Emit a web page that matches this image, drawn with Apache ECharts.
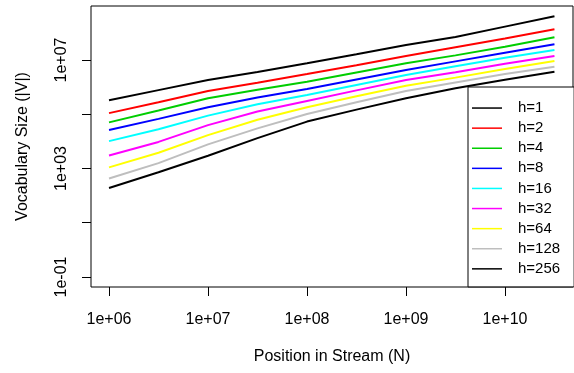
<!DOCTYPE html>
<html>
<head>
<meta charset="utf-8">
<script src="https://cdn.jsdelivr.net/npm/echarts@6/dist/echarts.min.js"></script>
<style>html,body{margin:0;padding:0;background:#fff}#c{width:574px;height:373px}</style>
</head>
<body>
<div id="c"></div>
<script>
// Stream positions (N)
var positions = [1e6, 3.16e6, 1e7, 3.16e7, 1e8, 3.16e8, 1e9, 3.16e9, 1e10, 3.16e10];
// Vocabulary size |V| per hash setting h
var seriesNames = ['h=1', 'h=2', 'h=4', 'h=8', 'h=16', 'h=32', 'h=64', 'h=128', 'h=256'];
var h1   = [3.31e5, 7.76e5, 1.82e6, 3.63e6, 7.59e6, 1.62e7, 3.55e7, 7.08e7, 1.70e8, 4.07e8];
var h2   = [1.10e5, 2.75e5, 7.24e5, 1.45e6, 3.02e6, 6.46e6, 1.41e7, 2.95e7, 6.17e7, 1.35e8];
var h4   = [5.01e4, 1.38e5, 3.89e5, 7.94e5, 1.58e6, 3.47e6, 7.59e6, 1.48e7, 3.09e7, 6.92e7];
var h8   = [2.63e4, 6.76e4, 1.82e5, 4.17e5, 8.51e5, 1.91e6, 4.27e6, 8.91e6, 1.86e7, 3.80e7];
var h16  = [1.02e4, 2.82e4, 8.91e4, 2.34e5, 5.13e5, 1.20e6, 2.82e6, 5.89e6, 1.20e7, 2.34e7];
var h32  = [3.02e3, 9.55e3, 3.98e4, 1.26e5, 3.09e5, 7.59e5, 1.82e6, 3.55e6, 7.24e6, 1.41e7];
var h64  = [1.10e3, 3.80e3, 1.70e4, 6.31e4, 1.82e5, 4.57e5, 1.12e6, 2.24e6, 4.68e6, 9.12e6];
var h128 = [427, 1.58e3, 7.76e3, 3.02e4, 1.02e5, 2.75e5, 7.24e5, 1.48e6, 3.02e6, 5.62e6];
var h256 = [191, 724, 2.95e3, 1.32e4, 5.37e4, 1.48e5, 3.89e5, 9.12e5, 1.86e6, 3.72e6];
// Tick positions (powers of ten)
var xTickExps = [6, 7, 8, 9, 10];
var yTickExps = [-1, 1, 3, 5, 7];
var yLabelExps = [-1, 3, 7];

var colors = ['#000000', '#FF0000', '#00CD00', '#0000FF', '#00FFFF', '#FF00FF', '#FFFF00', '#BEBEBE', '#000000'];
var allValues = [h1, h2, h4, h8, h16, h32, h64, h128, h256];
var FONT = 'Liberation Sans, Arial, Helvetica, sans-serif';

function sci(e) {
  var s = e < 0 ? '-' : '+';
  var a = Math.abs(Math.round(e));
  return '1e' + s + (a < 10 ? '0' + a : '' + a);
}

var series = allValues.map(function (vals, i) {
  return {
    name: seriesNames[i],
    type: 'line',
    symbol: 'none',
    color: colors[i],
    lineStyle: { width: 2, color: colors[i] },
    data: positions.map(function (x, j) { return [Math.log10(x), Math.log10(vals[j])]; })
  };
});

var chart = echarts.init(document.getElementById('c'), null, { renderer: 'canvas' });
chart.setOption({
  animation: false,
  backgroundColor: '#ffffff',
  grid: { left: 91, top: 6, width: 482, height: 281, show: true, borderColor: '#000', borderWidth: 1, backgroundColor: 'transparent' },
  xAxis: {
    type: 'value', min: 5.818, max: 10.687,
    axisLine: { show: false, onZero: false },
    splitLine: { show: false },
    axisTick: { show: true, length: 9, lineStyle: { color: '#000', width: 1 }, customValues: xTickExps },
    axisLabel: { customValues: xTickExps, formatter: function (v) { return sci(v); }, color: '#000', fontSize: 16, fontFamily: FONT, margin: 25 },
    name: 'Position in Stream (N)', nameLocation: 'middle', nameGap: 62,
    nameTextStyle: { color: '#000', fontSize: 16, fontFamily: FONT }
  },
  yAxis: {
    type: 'value', min: -1.369, max: 8.991,
    axisLine: { show: false, onZero: false },
    splitLine: { show: false },
    axisTick: { show: true, length: 9, lineStyle: { color: '#000', width: 1 }, customValues: yTickExps },
    axisLabel: { customValues: yLabelExps, rotate: 90, formatter: function (v) { return sci(v); }, color: '#000', fontSize: 16, fontFamily: FONT, margin: 21 },
    name: 'Vocabulary Size (|V|)', nameLocation: 'middle', nameGap: 60, nameRotate: 90,
    nameTextStyle: { color: '#000', fontSize: 16, fontFamily: FONT }
  },
  legend: {
    orient: 'vertical', left: 468, top: 87,
    padding: [11, 14, 8, 4],
    icon: 'rect', itemWidth: 30, itemHeight: 1.5, itemGap: 0,
    backgroundColor: '#fff', borderColor: '#000', borderWidth: 1, borderRadius: 0,
    textStyle: { color: '#000', fontSize: 15, fontFamily: FONT, lineHeight: 20.1, padding: [0, 0, 0, 11] },
    data: seriesNames
  },
  series: series
});
</script>
</body>
</html>
